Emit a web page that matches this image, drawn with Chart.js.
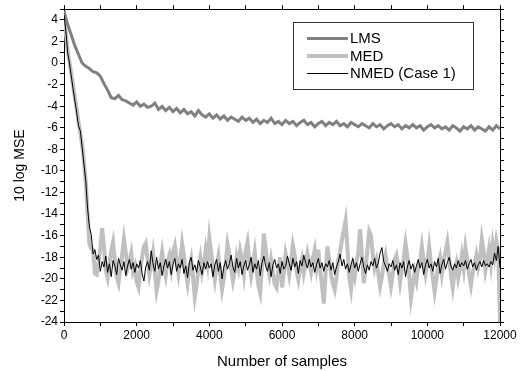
<!DOCTYPE html>
<html>
<head>
<meta charset="utf-8">
<script src="https://cdn.jsdelivr.net/npm/chart.js@4/dist/chart.umd.min.js"></script>
<style>
  body { margin: 0; background: #fff; }
  #wrap { width: 525px; height: 371px; position: relative; }
</style>
</head>
<body>
<div id="wrap"><canvas id="grafico"></canvas></div>
<script>
// sample spacing of each curve
const lmsStep = 100;
const medStep = 50;
const nmedStep = 50;

// LMS, one value every 100 samples (0..12000)
const lmsY = [
  4.8, 3.6, 2.6, 1.6, 0.8, 0.0, -0.3, -0.5, -0.8, -0.9,
  -1.2, -1.9, -2.5, -3.2, -3.3, -3.0, -3.4, -3.5, -3.7, -3.9,
  -3.6, -4.0, -3.8, -4.1, -4.0, -3.7, -4.3, -4.0, -4.4, -4.1,
  -4.5, -4.2, -4.6, -4.3, -4.7, -4.5, -4.9, -4.4, -4.8, -5.0,
  -4.7, -5.1, -4.8, -5.2, -4.9, -5.3, -5.0, -5.2, -5.4, -5.0,
  -5.3, -5.1, -5.5, -5.2, -5.6, -5.3, -5.5, -5.1, -5.6, -5.4,
  -5.7, -5.3, -5.6, -5.4, -5.8, -5.5, -5.3, -5.7, -5.5, -5.9,
  -5.6, -5.4, -5.8, -5.5, -5.7, -5.4, -5.8, -5.6, -5.9, -5.5,
  -5.7, -5.9, -5.6, -5.8, -6.0, -5.6, -5.9, -5.7, -6.1, -5.8,
  -5.6, -5.9, -5.7, -6.1, -5.8, -6.0, -5.7, -6.0, -5.8, -6.2,
  -5.9, -5.7, -6.0, -5.8, -6.1, -5.9, -6.2, -5.8, -6.0, -6.3,
  -5.9, -6.1, -5.8, -6.2, -5.9, -6.1, -6.3, -5.9, -6.2, -5.8,
  -6.1
];

// MED, one value every 50 samples
const medY = [
  4.8, 2.8, 1.2, 0.1, -1.0, -2.1, -3.2, -4.3, -5.5, -6.5, -7.6, -9.2, -11.0, -14.0, -16.8, -17.2, -17.3, -19.5, -19.6, -18.4,
  -17.2, -15.3, -17.0, -19.2, -19.9, -18.6, -17.4, -16.6, -18.3, -19.8, -20.4, -19.0, -17.8, -16.3, -17.5, -19.0, -18.4, -17.6, -19.3, -18.8,
  -20.3, -20.8, -19.1, -18.0, -17.0, -16.7, -18.2, -19.6, -18.7, -17.6, -19.4, -21.1, -20.2, -18.6, -17.5, -18.8, -19.7, -18.4, -17.8, -19.0,
  -17.5, -16.9, -18.3, -19.5, -18.2, -16.7, -17.8, -19.3, -20.4, -19.0, -18.2, -19.8, -21.7, -20.6, -18.9, -18.0, -19.4, -18.6, -17.3, -18.5,
  -16.2, -17.5, -19.0, -20.1, -18.8, -17.9, -19.6, -21.0, -20.0, -18.6, -16.8, -17.7, -19.1, -20.2, -19.3, -18.0, -18.9, -17.4, -18.2, -19.5,
  -17.4, -16.6, -18.4, -19.7, -18.6, -17.5, -19.2, -20.6, -21.3, -18.8, -15.8, -17.2, -18.7, -19.6, -18.3, -19.4, -20.5, -20.8, -19.2, -18.0,
  -20.8, -19.4, -17.7, -18.5, -19.6, -18.4, -16.9, -17.8, -19.3, -20.1, -19.0, -18.2, -19.5, -18.6, -17.6, -18.4, -19.3, -18.1, -17.3, -18.8,
  -17.3, -19.2, -20.6, -22.3, -19.5, -17.0, -18.3, -19.6, -20.4, -21.0, -19.8, -18.2, -17.5, -16.4, -15.5, -14.6, -17.1, -19.8, -20.9, -19.0,
  -19.8, -18.4, -17.6, -15.4, -17.8, -20.4, -19.1, -17.3, -15.6, -16.0, -17.8, -19.0, -18.3, -19.5, -20.7, -19.8, -18.6, -17.8, -18.9, -19.6,
  -20.7, -19.6, -18.2, -17.8, -18.9, -20.3, -19.1, -18.1, -16.7, -17.9, -19.6, -21.8, -20.6, -19.4, -20.2, -18.8, -18.4, -17.0, -18.3, -19.5,
  -18.4, -17.0, -18.6, -19.9, -21.2, -20.0, -18.7, -18.0, -19.5, -18.3, -17.5, -16.6, -18.1, -19.6, -20.8, -19.4, -18.6, -19.9, -19.0, -17.8,
  -19.0, -17.1, -18.2, -19.6, -20.6, -19.4, -18.7, -17.8, -18.9, -18.1, -16.3, -17.4, -19.2, -18.3, -17.2, -18.6, -16.8, -17.9, -16.5, -17.4,
  -24.0
];

// NMED (Case 1), one value every 50 samples
const nmedY = [
  4.5, 3.0, 1.0, 0.0, -1.2, -2.4, -3.5, -4.6, -5.8, -6.3, -7.8, -9.4, -11.0, -13.5, -15.2, -15.9, -17.7, -17.3, -18.2, -17.8,
  -19.3, -18.4, -18.9, -17.9, -19.4, -18.6, -19.8, -18.3, -18.8, -19.6, -18.1, -18.7, -19.2, -18.4, -19.7, -18.8, -18.2, -19.1, -18.5, -19.4,
  -18.6, -19.0, -18.3, -19.5, -20.2, -18.9, -18.4, -19.2, -17.4, -18.6, -19.3, -18.0, -19.1, -18.5, -19.7, -18.8, -18.2, -19.0, -18.4, -19.6,
  -18.7, -18.1, -19.3, -18.6, -19.0, -18.2, -19.5, -18.8, -19.9, -18.5, -18.0, -19.2, -18.7, -19.4, -18.3, -18.9, -19.6, -18.5, -19.1, -18.4,
  -19.0, -18.6, -19.8, -18.7, -18.2, -19.3, -18.5, -20.0, -18.9, -18.3, -19.1, -18.6, -17.8, -18.9, -19.4, -18.1, -19.0, -18.4, -19.6, -18.8,
  -18.3, -19.2, -18.7, -18.0, -19.4, -18.6, -19.1, -18.3, -19.7, -18.5, -17.9, -18.8, -19.3, -18.5, -19.8, -18.7, -18.2, -19.0, -18.6, -19.5,
  -18.4, -19.1, -18.8, -17.9, -18.6, -19.2, -18.1, -18.9, -18.4, -19.5, -18.3, -18.8, -17.8, -18.5, -19.0, -18.2, -18.9, -18.5, -19.4, -18.7,
  -18.1, -19.0, -18.5, -19.3, -18.6, -18.9, -18.3, -19.2, -18.5, -19.6, -18.9, -18.4, -17.7, -18.8, -18.2, -19.1, -18.6, -19.4, -18.7, -18.1,
  -19.0, -18.5, -19.3, -18.6, -18.0, -18.9, -19.5, -18.7, -19.2, -18.4, -18.8, -18.1, -19.0, -18.5, -17.6, -17.1, -18.4, -18.8, -19.3, -18.6,
  -18.9, -18.3, -19.2, -18.7, -19.6, -18.5, -19.0, -18.4, -19.8, -18.9, -18.3, -19.1, -18.6, -19.4, -18.8, -18.2, -19.0, -18.5, -19.6, -18.7,
  -18.2, -19.0, -18.6, -19.3, -18.4, -18.9, -18.1, -19.5, -18.7, -18.2, -19.1, -18.5, -18.0, -18.8, -19.2, -18.6, -19.0, -18.3, -18.9, -18.5,
  -18.8, -18.3, -19.1, -18.6, -18.2, -18.9, -18.5, -19.2, -18.7, -18.4, -18.9, -18.3, -18.8, -18.6, -18.9, -18.4, -18.7, -17.6, -18.3, -17.0,
  -19.0
];

const seriesNames = ['LMS', 'MED', 'NMED (Case 1)'];
const xLabelEvery = 2000;
const yLabelEvery = 2;

const toPoints = (ys, step) => ys.map((y, i) => ({ x: i * step, y: y }));

// legend drawn in a framed box like the original
const legendBox = {
  id: 'legendBox',
  afterDraw(chart) {
    const ctx = chart.ctx;
    ctx.save();
    ctx.fillStyle = '#fff';
    ctx.fillRect(293.5, 22.5, 180, 67);
    ctx.strokeStyle = '#333';
    ctx.lineWidth = 1;
    ctx.strokeRect(293.5, 22.5, 180, 67);
    ctx.font = '15px "Liberation Sans", Arial, sans-serif';
    ctx.textBaseline = 'middle';
    chart.data.datasets.forEach((ds, i) => {
      const y = 38.5 + i * 17.5;
      ctx.strokeStyle = ds.borderColor;
      ctx.lineWidth = ds.borderWidth;
      ctx.beginPath();
      ctx.moveTo(307, y);
      ctx.lineTo(348, y);
      ctx.stroke();
      ctx.fillStyle = '#000';
      ctx.fillText(ds.label, 350, y + 0.5);
    });
    ctx.restore();
  }
};

const ctxMse = document.getElementById('grafico').getContext('2d');
const graficoMse = new Chart(ctxMse, {
  type: 'line',
  data: {
    datasets: [{
      label: seriesNames[0],
      data: toPoints(lmsY, lmsStep),
      borderColor: '#808080',
      borderWidth: 3,
      order: 1
    }, {
      label: seriesNames[1],
      data: toPoints(medY, medStep),
      borderColor: '#c0c0c0',
      borderWidth: 4,
      order: 2
    }, {
      label: seriesNames[2],
      data: toPoints(nmedY, nmedStep),
      borderColor: '#000000',
      borderWidth: 1,
      order: 0
    }]
  },
  options: {
    responsive: true,
    maintainAspectRatio: false,
    animation: false,
    elements: { point: { radius: 0 }, line: { tension: 0 } },
    layout: { padding: { top: 0, right: 20, bottom: 0, left: 0 } },
    plugins: { legend: { display: false }, tooltip: { enabled: false } },
    scales: {
      x: {
        type: 'linear',
        position: 'bottom',
        min: 0,
        max: 12000,
        ticks: {
          stepSize: 1000,
          autoSkip: false,
          maxRotation: 0,
          padding: 2,
          color: '#000',
          font: { size: 12, family: '"Liberation Sans", Arial, sans-serif' },
          callback: v => (v % xLabelEvery === 0 ? v : '')
        },
        grid: { drawOnChartArea: false, tickLength: 4, color: '#000' },
        border: { color: '#000' },
        title: {
          display: true,
          text: 'Number of samples',
          color: '#000',
          font: { size: 15, family: '"Liberation Sans", Arial, sans-serif' },
          padding: { top: 5, bottom: 0 }
        },
        afterFit: s => { s.height = 49; }
      },
      x2: {
        type: 'linear',
        position: 'top',
        min: 0,
        max: 12000,
        ticks: { stepSize: 1000, display: false },
        grid: { drawOnChartArea: false, tickLength: 4, color: '#000' },
        border: { color: '#000' },
        afterFit: s => { s.height = 5; }
      },
      y: {
        position: 'left',
        min: -24,
        max: 5,
        ticks: {
          stepSize: 1,
          autoSkip: false,
          padding: 2,
          color: '#000',
          font: { size: 12, family: '"Liberation Sans", Arial, sans-serif' },
          callback: v => (v % yLabelEvery === 0 ? v : '')
        },
        grid: { drawOnChartArea: false, tickLength: 4, color: '#000' },
        border: { color: '#000' },
        title: {
          display: true,
          text: '10 log MSE',
          color: '#000',
          font: { size: 14, family: '"Liberation Sans", Arial, sans-serif' },
          padding: { top: 12, bottom: 0 }
        },
        afterFit: s => { s.width = 64; }
      },
      y2: {
        position: 'right',
        min: -24,
        max: 5,
        ticks: { stepSize: 1, display: false },
        grid: { drawOnChartArea: false, tickLength: 4, color: '#000' },
        border: { color: '#000' },
        afterFit: s => { s.width = 5; }
      }
    }
  },
  plugins: [legendBox]
});
</script>
</body>
</html>
